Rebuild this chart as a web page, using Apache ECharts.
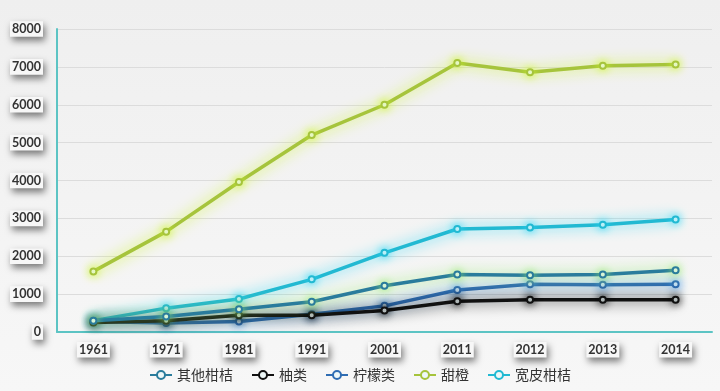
<!DOCTYPE html>
<html><head><meta charset="utf-8">
<script src="https://cdn.jsdelivr.net/npm/echarts@6/dist/echarts.min.js"></script>
<style>html,body{margin:0;padding:0;background:#f2f2f2;}#c{width:720px;height:391px;}</style>
</head><body><div id="c"></div>
<script>
var categories = ['1961','1971','1981','1991','2001','2011','2012','2013','2014'];
var otherCitrus = [300, 410, 600, 800, 1220, 1520, 1500, 1520, 1630];
var pomelo = [250, 300, 440, 440, 570, 810, 850, 850, 850];
var lemon = [280, 240, 280, 470, 690, 1110, 1260, 1250, 1260];
var sweetOrange = [1600, 2650, 3960, 5200, 6000, 7100, 6860, 7030, 7060];
var mandarin = [300, 630, 870, 1390, 2090, 2720, 2760, 2830, 2970];
var names = ['其他柑桔','柚类','柠檬类','甜橙','宽皮柑桔'];
var colors = ['#2a7c9c','#111111','#2f6db3','#a6c43c','#22b9d2'];
var glows = ['rgba(150,235,110,1)','rgba(0,0,0,1)','rgba(60,150,230,0.9)','rgba(205,245,40,1)','rgba(40,215,245,1)'];
var dataSets = [otherCitrus, pomelo, lemon, sweetOrange, mandarin];
var font = 'Lato, "Noto Sans CJK SC", sans-serif';
var chart = echarts.init(document.getElementById('c'));
var labelBox = {color:'#333', fontFamily:font, fontSize:12.5, fontWeight:'bold', backgroundColor:'#f7f7f7', padding:[2,2,1,2], shadowColor:'rgba(0,0,0,0.5)', shadowBlur:7, shadowOffsetX:2, shadowOffsetY:4};
var series = names.map(function(n,i){
  return {name:n, type:'line', data:dataSets[i], symbol:'circle', symbolSize:6, z: 10 - i,
    lineStyle:{color:colors[i], width:3.5, shadowColor:glows[i], shadowBlur:14},
    itemStyle:{color:'#eef8f8', borderColor:colors[i], borderWidth:2, shadowColor:glows[i], shadowBlur:8}};
});
chart.setOption({
  backgroundColor: new echarts.graphic.LinearGradient(0,0,0,1,[{offset:0,color:'#efefef'},{offset:1,color:'#f7f7f7'}]),
  animation:false,
  color: colors,
  grid:{left:57, right:8, top:29, bottom:59},
  legend:{bottom:4, left:'center', itemWidth:22, itemHeight:10, itemGap:18,
    textStyle:{fontSize:14, color:'#333', fontFamily:font}},
  xAxis:{type:'category', data:categories, boundaryGap:true,
    axisLine:{lineStyle:{color:'#5cc4c4', width:2}},
    axisTick:{show:false},
    axisLabel:Object.assign({margin:10}, labelBox)},
  yAxis:{type:'value', min:0, max:8000, interval:1000,
    axisLine:{show:true, lineStyle:{color:'#5cc4c4', width:2}},
    splitLine:{lineStyle:{color:'#dcdcdc', width:1}},
    axisLabel:Object.assign({margin:14, formatter:function(v){return String(v);}}, labelBox)},
  series: series
});
</script></body></html>
